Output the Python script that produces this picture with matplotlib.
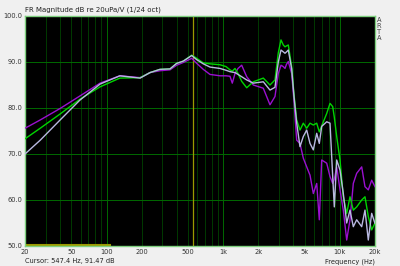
import matplotlib
matplotlib.use("Agg")
import matplotlib.pyplot as plt
from matplotlib.ticker import FixedLocator, NullFormatter

# frequency points (Hz) shared by all three traces
freq = [20, 27, 40, 59, 88, 130, 194, 236, 287, 350, 399, 455, 537, 593, 675,
        770, 939, 1057, 1143, 1196, 1262, 1339, 1440, 1590, 1811, 2206, 2517,
        2778, 2966, 3128, 3274, 3386, 3487, 3613, 3862, 4043, 4264, 4550, 4858,
        5196, 5546, 5920, 6330, 6662, 6985, 7709, 8230, 8680, 8958, 9392,
        10024, 10700, 11440, 12212, 13033, 13932, 15382, 16412, 17520, 18734,
        20000]

green = [73.3, 75.6, 78.7, 81.9, 84.6, 86.5, 86.6, 87.7, 88.4, 88.5, 89.7, 90.2,
         91.5, 90.8, 89.8, 89.6, 89.4, 89.0, 88.3, 88.0, 88.6, 87.5, 85.8, 84.4,
         85.7, 86.5, 85.0, 86.1, 92.0, 94.8, 93.7, 93.3, 93.5, 93.7, 89.0, 83.0,
         77.4, 75.2, 76.7, 75.6, 76.7, 76.3, 76.7, 74.8, 76.1, 78.8, 81.0, 80.3,
         78.0, 73.8, 68.7, 60.7, 57.1, 60.7, 57.8, 58.5, 60.0, 60.7, 56.4, 53.5,
         55.0]

white = [70.0, 73.0, 77.4, 81.7, 85.2, 87.0, 86.5, 87.7, 88.4, 88.5, 89.7, 90.2,
         91.4, 90.5, 89.6, 88.9, 88.6, 88.2, 87.9, 87.8, 87.7, 87.3, 86.8, 86.1,
         85.4, 85.7, 83.9, 84.5, 90.0, 92.6, 92.2, 91.9, 92.2, 92.6, 88.5, 82.5,
         76.7, 71.6, 73.8, 75.2, 72.3, 70.9, 74.5, 72.3, 76.0, 77.0, 76.7, 65.1,
         58.5, 68.7, 66.5, 61.4, 55.0, 57.8, 54.2, 55.7, 54.2, 57.8, 51.3, 57.1,
         54.9]

purple = [75.6, 77.4, 79.9, 82.6, 85.4, 87.0, 86.6, 87.7, 88.1, 88.3, 89.3, 89.9,
          90.8, 89.7, 88.4, 87.3, 87.0, 87.0, 86.9, 85.4, 87.5, 88.6, 89.3, 86.8,
          85.0, 84.3, 80.7, 82.5, 87.5, 89.3, 89.0, 88.6, 89.5, 90.1, 87.5, 81.5,
          73.0, 72.3, 69.1, 67.2, 65.4, 61.4, 63.6, 55.7, 68.7, 68.0, 65.1, 63.6,
          64.5, 67.2, 62.2, 57.8, 51.3, 55.7, 63.6, 65.8, 67.2, 62.9, 62.2, 64.3,
          62.9]

xtick_vals = [20, 50, 100, 200, 500, 1000, 2000, 5000, 10000, 20000]
xtick_labels = ["20", "50", "100", "200", "500", "1k", "2k", "5k", "10k", "20k"]
ytick_vals = [50, 60, 70, 80, 90, 100]

cursor_freq = 547.4
cursor_db = 91.47

fig = plt.figure(figsize=(4.0, 2.66), dpi=100)
fig.patch.set_facecolor("#f0f0f0")
ax = fig.add_axes([25 / 400, 1 - 246 / 266, 350 / 400, 230 / 266])
ax.set_facecolor("black")
ax.set_xscale("log")
ax.set_xlim(20, 20000)
ax.set_ylim(50, 100)

# grid: every integer multiple in each decade
minor = [m * 10 ** d for d in range(1, 5) for m in range(1, 10)]
for f in minor:
    if 20 < f < 20000:
        major = f in (100, 1000, 10000)
        ax.axvline(f, color="#006a00" if major else "#003a00", lw=0.7, zorder=1)
for v in (60, 70, 80, 90):
    ax.axhline(v, color="#006a00", lw=0.7, zorder=1)

# cursor
ax.axvline(cursor_freq, color="#9a9a00", lw=0.9, zorder=2)
ax.plot([20, 108], [50.3, 50.3], color="#9a9a00", lw=1.5, zorder=2)

ax.plot(freq, purple, color="#9a10d0", lw=1.0, zorder=3)
ax.plot(freq, green, color="#00d400", lw=1.0, zorder=4)
ax.plot(freq, white, color="#b8b8e0", lw=1.0, zorder=5)

ax.xaxis.set_major_locator(FixedLocator(xtick_vals))
ax.set_xticklabels(xtick_labels)
ax.xaxis.set_minor_formatter(NullFormatter())
ax.xaxis.set_minor_locator(FixedLocator([]))
ax.set_yticks(ytick_vals)
ax.set_yticklabels([f"{v:.1f}" for v in ytick_vals])
ax.tick_params(length=0, labelsize=4.8, colors="#333333", pad=2)
for s in ax.spines.values():
    s.set_color("#7ed07e")
    s.set_linewidth(1.0)

fig.text(25 / 400, 1 - 10 / 266, "FR Magnitude dB re 20uPa/V (1/24 oct)",
         fontsize=5, color="#222222", va="center", ha="left")
fig.text(25 / 400, 1 - 261 / 266, f"Cursor: {cursor_freq} Hz, {cursor_db} dB",
         fontsize=4.8, color="#222222", va="center", ha="left")
fig.text(375 / 400, 1 - 261.5 / 266, "Frequency (Hz)",
         fontsize=4.8, color="#222222", va="center", ha="right")
for i, ch in enumerate("ARTA"):
    fig.text(379 / 400, 1 - (19.5 + i * 6.3) / 266, ch, fontsize=4.8,
             color="#444444", va="center", ha="center")

fig.savefig("out.png", dpi=100, facecolor=fig.get_facecolor())
